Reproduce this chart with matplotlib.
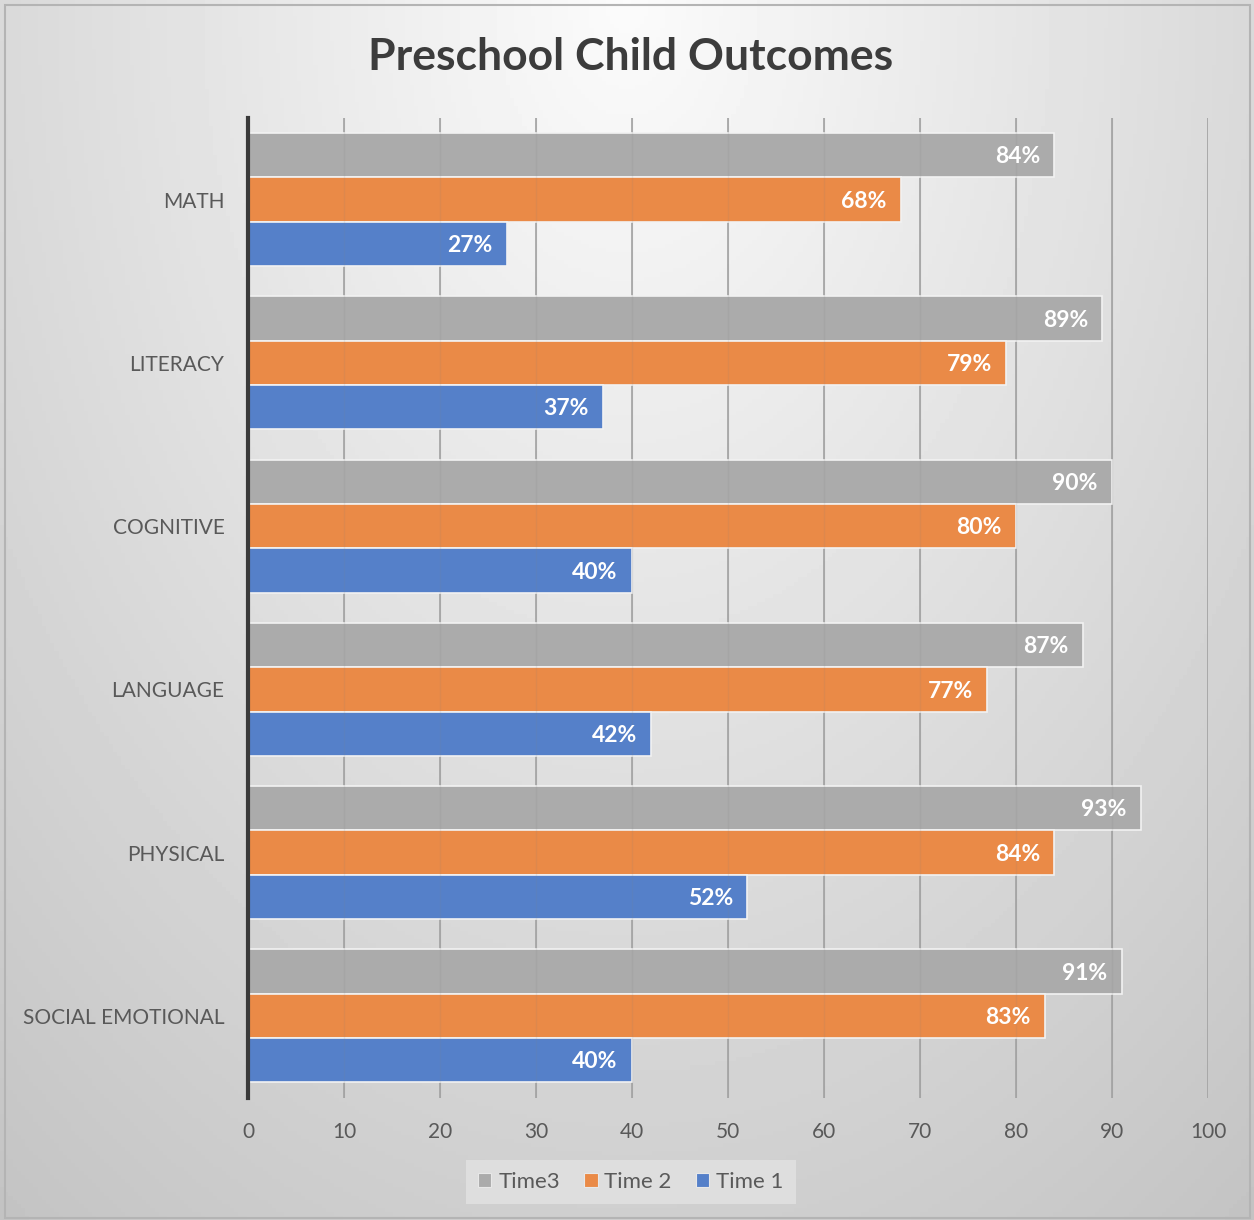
import numpy as np
import matplotlib
matplotlib.use("Agg")
import matplotlib.pyplot as plt
from matplotlib.patches import Patch, Rectangle

categories = ["MATH", "LITERACY", "COGNITIVE", "LANGUAGE", "PHYSICAL", "SOCIAL EMOTIONAL"]
time3 = [84, 89, 90, 87, 93, 91]
time2 = [68, 79, 80, 77, 84, 83]
time1 = [27, 37, 40, 42, 52, 40]
series_names = ["Time3", "Time 2", "Time 1"]
xticks = [0, 10, 20, 30, 40, 50, 60, 70, 80, 90, 100]

colors = ["#ababab", "#ea8a47", "#5580c9"]
txt = "#595959"
plt.rcParams['font.family'] = ['Lato', 'DejaVu Sans']

fig = plt.figure(figsize=(12.54, 12.2), dpi=100)

# background gradient
bg = fig.add_axes([0, 0, 1, 1], zorder=-10)
yy, xx = np.mgrid[0:1:300j, 0:1:300j]
d = np.sqrt(((xx - 0.5) / 0.75) ** 2 + ((yy - 0.0) / 1.15) ** 2)
val = np.clip(0.985 - 0.2 * d, 0, 1)
bg.imshow(val, cmap="gray", vmin=0, vmax=1, extent=[0, 1, 0, 1], origin="upper", aspect="auto")
bg.set_xlim(0, 1); bg.set_ylim(0, 1)
bg.axis("off")
bg.add_patch(Rectangle((5 / 1254, 2 / 1220), 1 - 9 / 1254, 1 - 7 / 1220, fill=False,
                       edgecolor="#b4b4b4", lw=1.5, transform=bg.transAxes))

ax = fig.add_axes([248 / 1254, 1 - 1097.5 / 1220, 960 / 1254, (1097.5 - 118) / 1220])
ax.set_facecolor("none")

n = len(categories)
y = np.arange(n)
h = 0.272
series = [time3, time2, time1]
offsets = [-h, 0, h]
for vals, off, c, name in zip(series, offsets, colors, series_names):
    bars = ax.barh(y + off, vals, height=h, color=c, edgecolor="#f2f2f2", linewidth=1.2,
                   label=name, zorder=2)
    for b, v in zip(bars, vals):
        ax.text(v - 1.5, b.get_y() + b.get_height() / 2 + 0.01, f"{v}%", ha="right", va="center",
                color="white", fontsize=16.5, fontweight="bold", zorder=4)

ax.set_xlim(0, 100)
ax.set_ylim(n - 0.5, -0.5)
ax.set_xticks(xticks)
ax.set_yticks(y)
ax.set_yticklabels(categories)
for xv in xticks[1:]:
    ax.axvline(xv, color="#a3a3a3", lw=1.2, zorder=1)
    ax.axvline(xv, color="#808080", lw=1.0, alpha=0.12, zorder=3)
for s in ["top", "right", "bottom"]:
    ax.spines[s].set_visible(False)
ax.spines["left"].set_color("#3a3a3a")
ax.spines["left"].set_linewidth(3)
ax.spines["left"].set_zorder(5)
ax.tick_params(axis="x", length=0, pad=18, labelsize=15, labelcolor=txt)
ax.tick_params(axis="y", length=0, pad=17, labelsize=15, labelcolor=txt)

fig.text(0.503, 1 - 57 / 1220, "Preschool Child Outcomes", ha="center", va="center",
         fontsize=32, fontweight="bold", color="#3c3c3c")

handles = [Patch(facecolor=c, edgecolor="#e8e8e8", lw=0.8) for c in colors]
leg = fig.legend(handles, series_names, loc="center", bbox_to_anchor=(0.503, 1 - 1182 / 1220),
                 ncol=3, frameon=True, fontsize=16, handlelength=0.6, handleheight=0.6,
                 handletextpad=0.3, columnspacing=1.1, borderpad=0.55, labelcolor=txt)
leg.get_frame().set_facecolor("#dedede")
leg.get_frame().set_edgecolor("none")
leg.get_frame().set_alpha(1)
leg.get_frame().set_boxstyle("square", pad=0.0)

fig.savefig("out.png", dpi=100)
